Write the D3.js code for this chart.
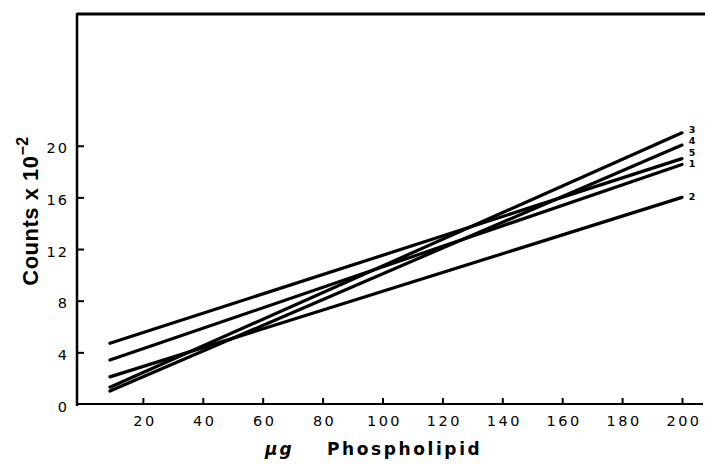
<!DOCTYPE html>
<html><head><meta charset="utf-8">
<script src="https://cdn.jsdelivr.net/npm/d3@7"></script>
<style>body{margin:0;background:#fff}svg{display:block}</style>
</head><body>
<script>
// Data
const seriesNames = ["1", "2", "3", "4", "5"];
const doses = [9, 200];                 // µg phospholipid (line start / end)
const counts1 = [3.4, 18.55];
const counts2 = [2.1, 16.0];
const counts3 = [1.3, 21.0];
const counts4 = [1.0, 20.05];
const counts5 = [4.7, 19.0];
const xTicks = [20, 40, 60, 80, 100, 120, 140, 160, 180, 200];
const yTicks = [0, 4, 8, 12, 16, 20];
const allCounts = [counts1, counts2, counts3, counts4, counts5];

const W = 705, H = 469;
const svg = d3.select("body").append("svg").attr("width", W).attr("height", H);

const x = d3.scaleLinear().domain([-2, 200]).range([77, 682]);
const y = d3.scaleLinear().domain([0, 30.2]).range([404, 14]);

const font = "'DejaVu Sans', sans-serif";

// frame lines
svg.append("line").attr("x1", 77).attr("x2", 705).attr("y1", y(30.2)).attr("y2", y(30.2))
  .attr("stroke", "#000").attr("stroke-width", 3);
svg.append("line").attr("x1", 77).attr("x2", 77).attr("y1", y(30.2) - 1).attr("y2", 406)
  .attr("stroke", "#000").attr("stroke-width", 2.5);
svg.append("line").attr("x1", 76).attr("x2", 703).attr("y1", 404).attr("y2", 404)
  .attr("stroke", "#000").attr("stroke-width", 2);

// axes
const xAxis = d3.axisBottom(x).tickValues(xTicks).tickSize(-6).tickPadding(12).tickSizeOuter(0);
const gx = svg.append("g").attr("transform", "translate(0,404)").call(xAxis);
gx.select(".domain").remove();
gx.selectAll(".tick line").attr("stroke", "#000").attr("stroke-width", 2);
gx.selectAll(".tick text").attr("font-family", font).attr("font-size", 14.5)
  .attr("letter-spacing", "2.5px").attr("fill", "#000").attr("dx", "1.5px");

const yAxis = d3.axisLeft(y).tickValues(yTicks).tickSize(-7).tickPadding(8).tickSizeOuter(0);
const gy = svg.append("g").attr("transform", "translate(77,0)").call(yAxis);
gy.select(".domain").remove();
gy.selectAll(".tick line").attr("stroke", "#000").attr("stroke-width", 2)
  .attr("opacity", d => d === 0 ? 0 : 1);
gy.selectAll(".tick text").attr("font-family", font).attr("font-size", 14.5)
  .attr("letter-spacing", "2px").attr("fill", "#000").attr("dy", "0.5em");

// lines
const line = d3.line().x(d => x(d[0])).y(d => y(d[1]));
allCounts.forEach((c, i) => {
  svg.append("path")
    .datum(doses.map((d, j) => [d, c[j]]))
    .attr("d", line)
    .attr("fill", "none").attr("stroke", "#000").attr("stroke-width", 3.2)
    .attr("stroke-linecap", "round");
});

// series labels at right end, stacked
const labelOrder = ["3", "4", "5", "1", "2"];
const labelY = [129.5, 141, 152.5, 164, 196.5];
labelOrder.forEach((n, i) => {
  svg.append("text").attr("x", 692).attr("y", labelY[i]).attr("dy", "0.36em")
    .attr("text-anchor", "middle").attr("font-family", font).attr("font-size", 9.5)
    .attr("font-weight", "bold").text(n);
});

// axis titles
const yt = svg.append("text")
  .attr("transform", "translate(38,211) rotate(-90)")
  .attr("text-anchor", "middle").attr("font-family", "'Liberation Sans', Arial, sans-serif")
  .attr("font-size", 22).attr("font-weight", "bold").attr("fill", "#000")
  .attr("letter-spacing", "0.5px");
yt.append("tspan").text("Counts  x  10");
yt.append("tspan").attr("dy", "-0.6em").attr("font-size", 16).text("\u22122");

const xt = svg.append("text").attr("x", 265).attr("y", 455)
  .attr("font-family", font).attr("font-size", 17).attr("font-weight", "bold").attr("fill", "#000");
xt.append("tspan").attr("font-style", "italic").attr("letter-spacing", "2px").text("\u03bcg");
xt.append("tspan").attr("x", 327).attr("letter-spacing", "2.6px").text("Phospholipid");
</script>
</body></html>
